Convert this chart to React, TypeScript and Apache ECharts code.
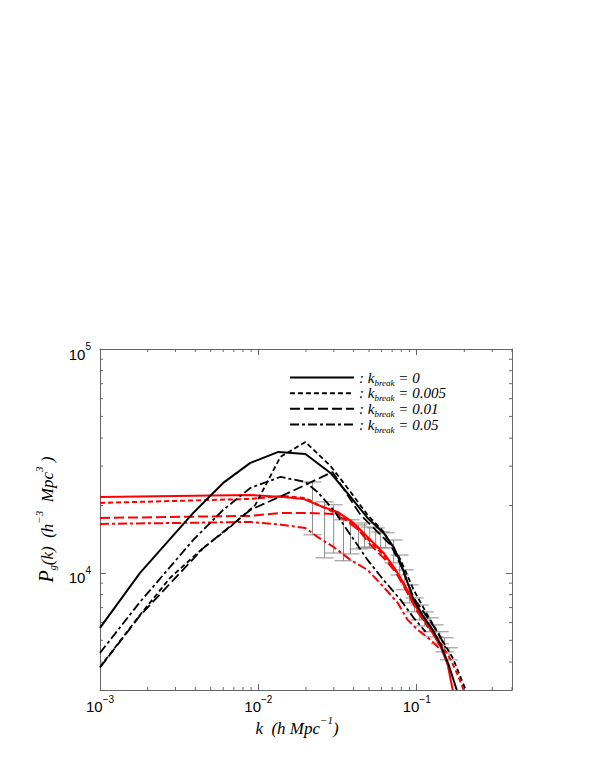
import React, { useEffect, useRef } from 'react';
import * as echarts from 'echarts';

// ---- data: [k (h/Mpc), P(k)] ----
const black0: [number, number][] = [
  [0.001, 5680], [0.00179, 10000], [0.00388, 18530], [0.0060, 25230], [0.0089, 30990],
  [0.01339, 34700], [0.01983, 33980], [0.02855, 27950], [0.03823, 21840], [0.04896, 17600],
  [0.0618, 15090], [0.0715, 13060], [0.0792, 11080], [0.0877, 9020], [0.0957, 7580],
  [0.1107, 6360], [0.1263, 5570], [0.1418, 4770], [0.1594, 3880], [0.1791, 3000],
];
const black005: [number, number][] = [
  [0.001, 3800], [0.00179, 6490], [0.00277, 9500], [0.00449, 12930], [0.00665, 16050],
  [0.00957, 20120], [0.01378, 32950], [0.01983, 38440], [0.02855, 30050], [0.03823, 22990],
  [0.04896, 18150], [0.0618, 15240], [0.0792, 11430], [0.0957, 8400], [0.114, 6700],
  [0.1418, 5130], [0.169, 4170], [0.2042, 3000],
];
const black01: [number, number][] = [
  [0.001, 3780], [0.00179, 6450], [0.00449, 12900], [0.0089, 19110], [0.01594, 22990],
  [0.0294, 28240], [0.03553, 22990], [0.04421, 18150], [0.055, 15560], [0.06844, 13340],
  [0.0792, 10860], [0.0957, 7735], [0.114, 6490], [0.1358, 5450], [0.1526, 4630],
];
const black05: [number, number][] = [
  [0.001, 4395], [0.00179, 7420], [0.00388, 14040], [0.0060, 19110], [0.0089, 23960],
  [0.01378, 26830], [0.01983, 25480], [0.02362, 22990], [0.02983, 19110], [0.03823, 14780],
  [0.04896, 11430], [0.0618, 9300], [0.0792, 7580], [0.0957, 6300], [0.114, 5450],
];
const red0: [number, number][] = [
  [0.001, 21840], [0.0089, 22290], [0.01439, 21840], [0.01927, 21400], [0.02362, 20120],
  [0.03162, 18720], [0.03995, 16720], [0.04896, 14480], [0.0618, 12280], [0.0715, 10640],
  [0.08274, 9020], [0.1015, 6840], [0.1226, 5570], [0.1418, 4670], [0.1571, 3880], [0.169, 3000],
];
const red005: [number, number][] = [
  [0.001, 20540], [0.0089, 21400], [0.01439, 22060], [0.01983, 21610], [0.02469, 19910],
  [0.03162, 18340], [0.03995, 16380], [0.04896, 14190], [0.0618, 12030], [0.07364, 10310],
  [0.08518, 8570], [0.1015, 6700], [0.1226, 5570], [0.1418, 4870], [0.1641, 4090],
  [0.1817, 3500], [0.1983, 3000],
];
const red01: [number, number][] = [
  [0.001, 17600], [0.0089, 17970], [0.01378, 18530], [0.02042, 18530], [0.0294, 18340],
  [0.03553, 17250], [0.04295, 15560], [0.05115, 13340], [0.0618, 11670], [0.07364, 10100],
  [0.08518, 8400], [0.1015, 6700], [0.1191, 5680],
];
const red05: [number, number][] = [
  [0.001, 16540], [0.0089, 16890], [0.01439, 16380], [0.01983, 15880], [0.02362, 14480],
  [0.02983, 13060], [0.03823, 11430], [0.04896, 10310], [0.0618, 8660], [0.07581, 7350],
  [0.0877, 6170], [0.1015, 5570], [0.1226, 5020], [0.1418, 4530],
];

// measured band power with error bars
const errK = [0.0220, 0.0262, 0.0299, 0.0345, 0.0382, 0.0429, 0.0469, 0.0505, 0.0551, 0.0592,
  0.0637, 0.0715, 0.0780, 0.0840, 0.0904, 0.0971, 0.1045, 0.1124, 0.1209, 0.130, 0.140, 0.150, 0.160];
const errLo = [14790, 11670, 12270, 11330, 12160, 12790, 12940, 13060, 12940, 12940,
  12940, 11090, 9790, 8400, 7350, 6700, 6170, 5800, 5460, 5180, 4820, 4440, 4090];
const errHi = [25480, 20750, 20140, 17260, 17260, 16370, 16710, 16030, 15880, 15240,
  15100, 14030, 12020, 10310, 8840, 7730, 7190, 6700, 6300, 5860, 5460, 5130, 4630];

const legendValues: Record<string, string> = {
  'kb0': '0', 'kb0.005': '0.005', 'kb0.01': '0.01', 'kb0.05': '0.05',
};

const xMinorTicks = [0.002, 0.003, 0.004, 0.005, 0.006, 0.007, 0.008, 0.009,
  0.02, 0.03, 0.04, 0.05, 0.06, 0.07, 0.08, 0.09, 0.2, 0.3, 0.4];
const yMinorTicks = [4000, 5000, 6000, 7000, 8000, 9000, 20000, 30000, 40000, 50000,
  60000, 70000, 80000, 90000];

const SERIF = "'Liberation Serif', 'DejaVu Serif', serif";
const SANS = "'Liberation Sans', Arial, sans-serif";
const AXIS_COLOR = '#666';

function powLabel(v: number): string {
  const l = Math.log10(v);
  const e = Math.round(l);
  if (Math.abs(l - e) > 1e-6) return '';
  return `{b|10}{s|${e < 0 ? '\u2212' + Math.abs(e) : e}}`;
}

const tickRich = {
  b: { fontFamily: SANS, fontSize: 15, color: '#000', lineHeight: 15, padding: [5, 0, 0, 0], verticalAlign: 'top' },
  s: { fontFamily: SANS, fontSize: 10, color: '#000', lineHeight: 10, verticalAlign: 'top' },
};

const it = (size: number) => ({ fontFamily: SERIF, fontStyle: 'italic', fontSize: size, color: '#000' });

export default function App() {
  const ref = useRef<HTMLDivElement>(null);
  useEffect(() => {
    if (!ref.current) return;
    const chart = echarts.init(ref.current, undefined, { renderer: 'svg' });

    const lineSeries = (name: string, data: [number, number][], color: string, width: number, type: any) => ({
      name, type: 'line', data, symbol: 'none', showSymbol: false, smooth: false,
      xAxisIndex: 0, yAxisIndex: 0, z: 3,
      lineStyle: { color, width, type }, itemStyle: { color },
    });

    const shortDash = [5, 3];
    const longDash = [10, 4];
    const dashDot = [9, 3, 3, 3];

    const option: any = {
      animation: false,
      backgroundColor: '#fff',
      grid: { left: 100, top: 349, right: 87, bottom: 86, containLabel: false },
      xAxis: [
        {
          type: 'log', logBase: 10, min: 0.001, max: 0.4, position: 'bottom',
          axisLine: { show: true, lineStyle: { color: AXIS_COLOR, width: 1 } },
          axisTick: { show: true, inside: true, length: 6, lineStyle: { color: AXIS_COLOR } },
          splitLine: { show: false },
          axisLabel: { formatter: powLabel, rich: tickRich, margin: 4 },
          name: '{i|k}{t|  (h Mpc}{sup|\u22121}{t|)}',
          nameLocation: 'middle', nameGap: 20,
          nameTextStyle: {
            ...it(17), padding: [0, 18, 0, 0],
            rich: {
              i: { ...it(17), lineHeight: 17, padding: [5, 0, 0, 0], verticalAlign: 'top' },
              t: { ...it(17), lineHeight: 17, padding: [5, 0, 0, 0], verticalAlign: 'top' },
              sup: { ...it(11), lineHeight: 11, verticalAlign: 'top' },
            },
          },
        },
        {
          type: 'log', logBase: 10, min: 0.001, max: 0.4, position: 'top',
          axisLine: { show: true, lineStyle: { color: AXIS_COLOR, width: 1 } },
          axisTick: { show: true, inside: true, length: 6, lineStyle: { color: AXIS_COLOR } },
          splitLine: { show: false }, axisLabel: { show: false },
        },
      ],
      yAxis: [
        {
          type: 'log', logBase: 10, min: 3000, max: 100000, position: 'left',
          axisLine: { show: true, lineStyle: { color: AXIS_COLOR, width: 1 } },
          axisTick: { show: true, inside: true, length: 6, lineStyle: { color: AXIS_COLOR } },
          splitLine: { show: false },
          axisLabel: { formatter: powLabel, rich: tickRich, margin: 9 },
          name: '{P|P}{sub|g}{t|(k)  (h}{sup|\u22123}{t|  Mpc}{sup|3}{t| )}',
          nameLocation: 'middle', nameRotate: 90, nameGap: 31,
          nameTextStyle: {
            ...it(17),
            rich: {
              P: { ...it(20), lineHeight: 20, padding: [2, 0, 0, 0], verticalAlign: 'top' },
              t: { ...it(17), lineHeight: 17, padding: [5, 0, 0, 0], verticalAlign: 'top' },
              sub: { ...it(10), lineHeight: 10, padding: [14, 0, 0, 0], verticalAlign: 'top' },
              sup: { ...it(11), lineHeight: 11, verticalAlign: 'top' },
            },
          },
        },
        {
          type: 'log', logBase: 10, min: 3000, max: 100000, position: 'right',
          axisLine: { show: true, lineStyle: { color: AXIS_COLOR, width: 1 } },
          axisTick: { show: true, inside: true, length: 6, lineStyle: { color: AXIS_COLOR } },
          splitLine: { show: false }, axisLabel: { show: false },
        },
      ],
      legend: {
        show: true, orient: 'vertical', left: 289, top: 370, padding: 0,
        itemWidth: 64, itemHeight: 12, itemGap: -1.33,
        itemStyle: { opacity: 0 },
        data: ['kb0', 'kb0.005', 'kb0.01', 'kb0.05'],
        formatter: (name: string) => `{t|: }{i|k}{sub|break}{t| = ${legendValues[name]}}`,
        textStyle: {
          ...it(15),
          rich: {
            t: { ...it(15), lineHeight: 15, verticalAlign: 'top' },
            i: { ...it(15), lineHeight: 15, verticalAlign: 'top' },
            sub: { ...it(9), lineHeight: 9, padding: [8, 0, 0, 0], verticalAlign: 'top' },
          },
        },
        selectedMode: false,
      },
      series: [
        {
          name: 'errors', type: 'custom', xAxisIndex: 0, yAxisIndex: 0, z: 2, silent: true,
          data: errK.map((k, i) => [k, errLo[i], errHi[i]]),
          encode: { x: 0, y: [1, 2] },
          renderItem: (params: any, api: any) => {
            const k = api.value(0);
            const lo = api.coord([k, api.value(1)]);
            const hi = api.coord([k, api.value(2)]);
            const w = 9;
            const st = { stroke: '#8c8c8c', lineWidth: 1 };
            return {
              type: 'group',
              children: [
                { type: 'line', shape: { x1: lo[0], y1: lo[1], x2: hi[0], y2: hi[1] }, style: st },
                { type: 'line', shape: { x1: lo[0] - w, y1: lo[1], x2: lo[0] + w, y2: lo[1] }, style: st },
                { type: 'line', shape: { x1: hi[0] - w, y1: hi[1], x2: hi[0] + w, y2: hi[1] }, style: st },
              ],
            };
          },
        },
        {
          name: 'xminor', type: 'custom', xAxisIndex: 0, yAxisIndex: 0, z: 1, silent: true,
          data: xMinorTicks.map((v) => [v, 10000]),
          encode: { x: 0, y: 1 },
          renderItem: (params: any, api: any) => {
            const cs = params.coordSys;
            const x = api.coord([api.value(0), 10000])[0];
            const st = { stroke: AXIS_COLOR, lineWidth: 1 };
            return {
              type: 'group',
              children: [
                { type: 'line', shape: { x1: x, y1: cs.y + cs.height, x2: x, y2: cs.y + cs.height - 3 }, style: st },
                { type: 'line', shape: { x1: x, y1: cs.y, x2: x, y2: cs.y + 3 }, style: st },
              ],
            };
          },
        },
        {
          name: 'yminor', type: 'custom', xAxisIndex: 0, yAxisIndex: 0, z: 1, silent: true,
          data: yMinorTicks.map((v) => [0.01, v]),
          encode: { x: 0, y: 1 },
          renderItem: (params: any, api: any) => {
            const cs = params.coordSys;
            const y = api.coord([0.01, api.value(1)])[1];
            const st = { stroke: AXIS_COLOR, lineWidth: 1 };
            return {
              type: 'group',
              children: [
                { type: 'line', shape: { x1: cs.x, y1: y, x2: cs.x + 3, y2: y }, style: st },
                { type: 'line', shape: { x1: cs.x + cs.width, y1: y, x2: cs.x + cs.width - 3, y2: y }, style: st },
              ],
            };
          },
        },
        lineSeries('red0', red0, '#ff0000', 2, 'solid'),
        lineSeries('red0.005', red005, '#ff0000', 2, shortDash),
        lineSeries('red0.01', red01, '#ff0000', 2, longDash),
        lineSeries('red0.05', red05, '#ff0000', 2, dashDot),
        lineSeries('kb0', black0, '#000', 2, 'solid'),
        lineSeries('kb0.005', black005, '#000', 1.8, shortDash),
        lineSeries('kb0.01', black01, '#000', 1.8, longDash),
        lineSeries('kb0.05', black05, '#000', 1.8, dashDot),
      ],
    };
    chart.setOption(option);
    return () => chart.dispose();
  }, []);
  return (
    <div
      ref={ref}
      style={{ position: 'fixed', left: 0, top: 0, width: 599, height: 776, background: '#fff' }}
    />
  );
}
